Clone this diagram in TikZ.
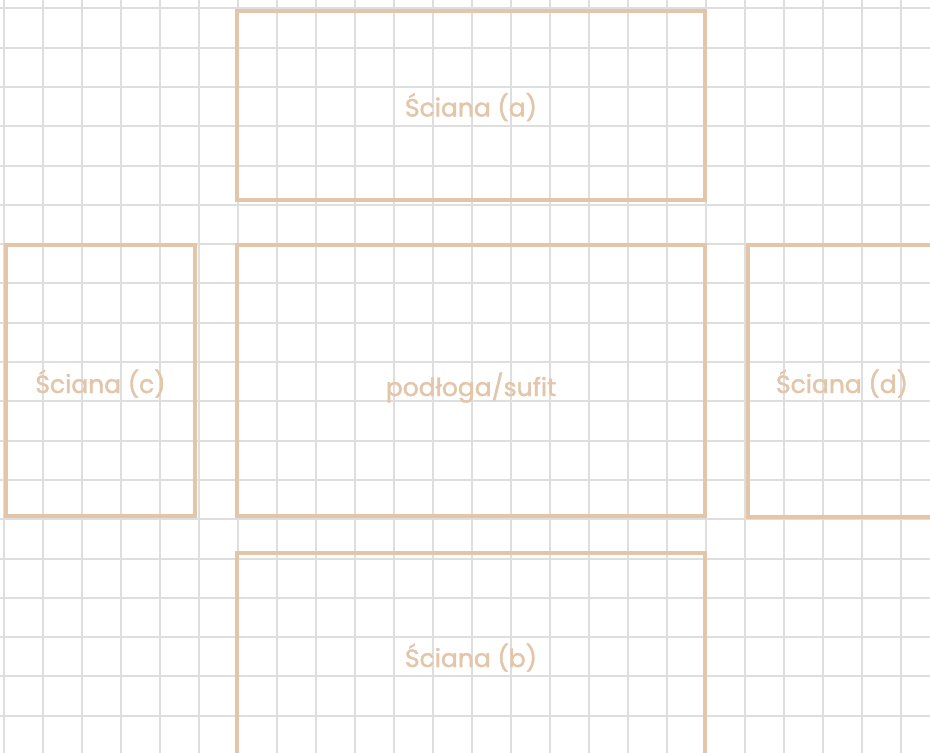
\documentclass[tikz,border=0pt]{standalone}
\usepackage{fontspec}
\setmainfont{Poppins}
\newfontfamily\lab{Poppins}[BoldFont={*},BoldFeatures={FakeBold=1.6}]
\definecolor{gridc}{HTML}{DEDEDE}
\definecolor{tanc}{HTML}{E3C6A9}
\begin{document}
\begin{tikzpicture}[x=1pt,y=-1pt,
  wall/.style={draw=tanc,line width=4.5pt},
  gridline/.style={draw=gridc,line width=2pt},
  lbl/.style={text=tanc,font=\lab\bfseries\fontsize{25}{29}\selectfont,anchor=base,inner sep=0pt}]
\useasboundingbox (0,0) rectangle (930,753);
\clip (0,0) rectangle (930,753);
\fill[white] (0,0) rectangle (930,753);
\foreach \i in {0,...,23} \draw[gridline] ({4.3+38.97*\i},0) -- ({4.3+38.97*\i},753);
\foreach \j in {0,...,18} \draw[gridline] (0,{8.3+39.3*\j}) -- (930,{8.3+39.3*\j});
\draw[wall] (237,11) rectangle (705,200);
\draw[wall] (6,245) rectangle (195,516);
\draw[wall] (237,245) rectangle (705,516);
\draw[wall] (748,245) rectangle (960,517);
\draw[wall] (237,553) rectangle (705,800);
\node[lbl] (wa) at (471,116.5) {Ściana (a)};
\node[lbl] (wc) at (100.5,393) {Ściana (c)};
\node[lbl] (fl) at (471,396) {podłoga/sufit};
\node[lbl] (wd) at (842,393) {Ściana (d)};
\node[lbl] (wb) at (471,667) {Ściana (b)};
\end{tikzpicture}
\end{document}
